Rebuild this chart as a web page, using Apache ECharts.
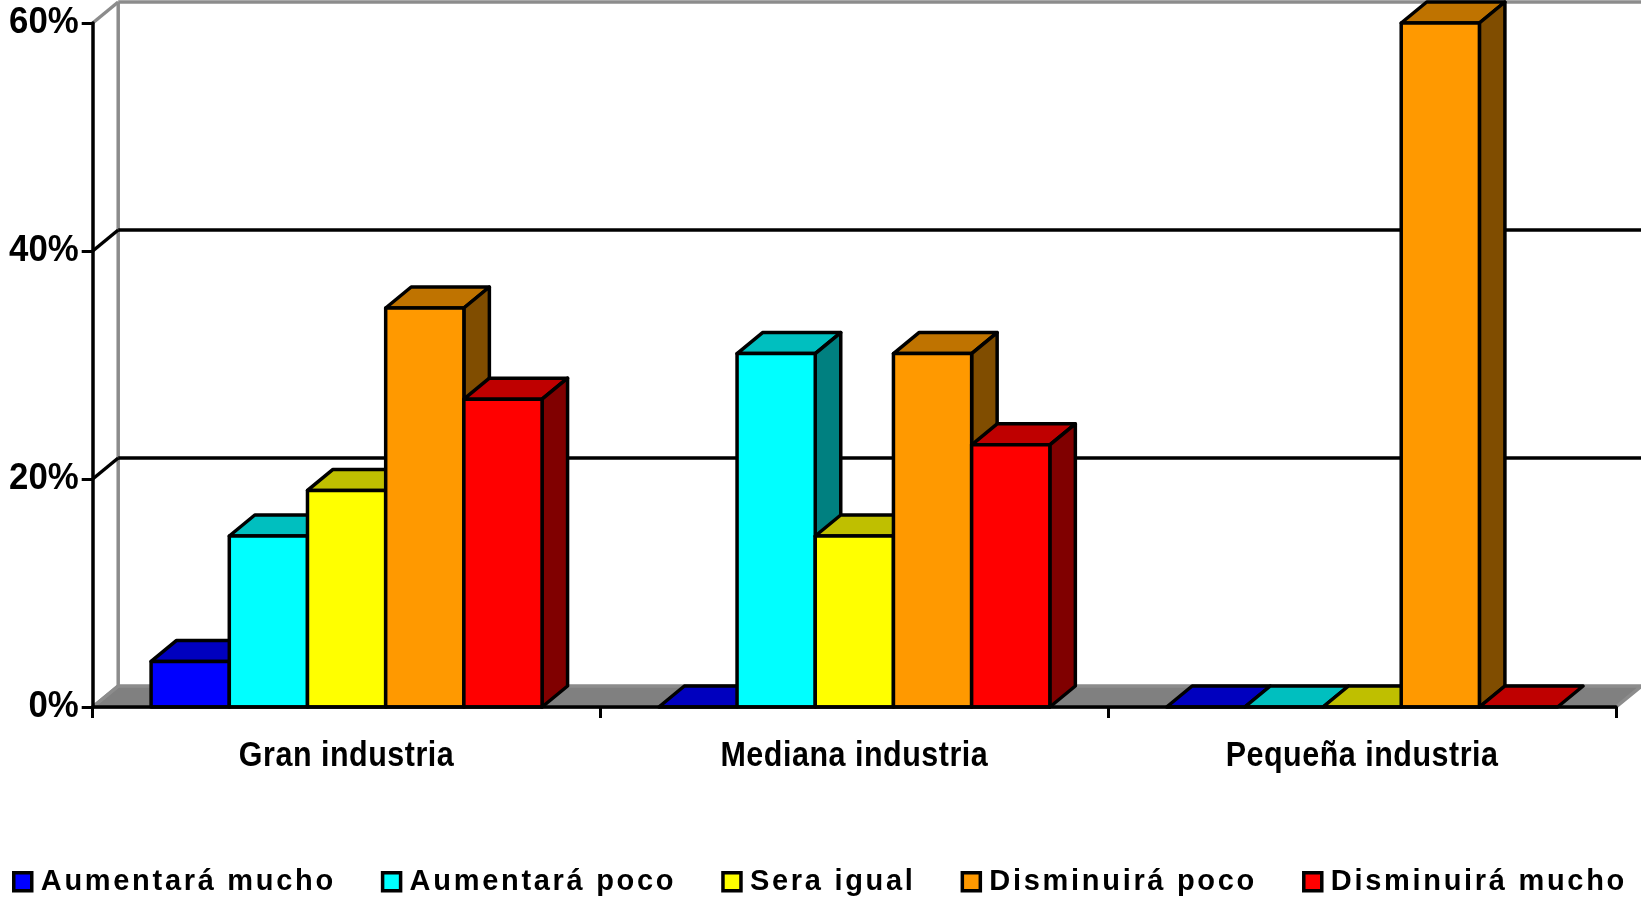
<!DOCTYPE html>
<html><head><meta charset="utf-8">
<style>html,body{margin:0;padding:0;background:#fff}#c{width:1641px;height:906px}</style>
<script src="https://cdn.jsdelivr.net/npm/echarts@6/dist/echarts.min.js"></script>
</head><body><div id="c"></div>
<script>
const categories = ['Gran industria', 'Mediana industria', 'Pequeña industria'];
const yTicks = [0, 20, 40, 60];
const aumentaraMucho = [4, 0, 0];
const aumentaraPoco = [15, 31, 0];
const seraIgual = [19, 15, 0];
const disminuiraPoco = [35, 31, 60];
const disminuiraMucho = [27, 23, 0];
const seriesNames = ['Aumentará mucho', 'Aumentará poco', 'Sera igual', 'Disminuirá poco', 'Disminuirá mucho'];
const seriesValues = [aumentaraMucho, aumentaraPoco, seraIgual, disminuiraPoco, disminuiraMucho];
const seriesColors = ['#0000ff', '#00ffff', '#ffff00', '#ff9900', '#ff0000'];

// per-font letter spacing and horizontal squeeze of the original's text rendering
const textFit = [
  { re: /29px/, spacing: '2.7px', squeeze: 1 },
  { re: /35px/, spacing: '0.6px', squeeze: 0.87 },
  { re: /37px/, spacing: '0px', squeeze: 0.94 }
];
const findFit = ctx => textFit.find(s => s.re.test(ctx.font));
const P = CanvasRenderingContext2D.prototype, ft = P.fillText, mt = P.measureText;
P.fillText = function (text, x, y) {
  const f = findFit(this);
  this.letterSpacing = f ? f.spacing : '0px';
  if (!f || f.squeeze === 1) return ft.call(this, text, x, y);
  this.save();
  this.translate(x, y);
  this.scale(f.squeeze, 1);
  ft.call(this, text, 0, 0);
  this.restore();
};
P.measureText = function (text) {
  const f = findFit(this);
  this.letterSpacing = f ? f.spacing : '0px';
  return mt.call(this, text);
};

const DX = 25.5, DY = 21, LW = 3.5, BAR = 0.154;
const shade = (hex, f) => {
  const n = parseInt(hex.slice(1), 16);
  const c = [n >> 16, (n >> 8) & 255, n & 255].map(v => Math.round(v * f));
  return 'rgb(' + c.join(',') + ')';
};
const poly = (points, fill, stroke) => ({
  type: 'polygon', shape: { points },
  style: { fill, stroke: stroke || '#000', lineWidth: LW, lineJoin: 'round' }
});
const line = (x1, y1, x2, y2, stroke) => ({
  type: 'line', shape: { x1, y1, x2, y2 }, style: { stroke, lineWidth: LW, lineCap: 'butt' }
});

function renderWall(params, api) {
  const v = api.value(0);
  const a = api.coord([0, v]);
  const band = api.size([1, 0])[0];
  const x0 = a[0] - band / 2, x1 = x0 + band * categories.length, y = a[1];
  const grey = '#808080';
  const top = v === yTicks[yTicks.length - 1];
  const children = [];
  if (v === 0) {
    children.push(poly([[x0, y], [x1, y], [x1 + DX, y - DY], [x0 + DX, y - DY]], grey, '#8c8c8c'));
    const topY = api.coord([0, yTicks[yTicks.length - 1]])[1];
    children.push(line(x0 + DX, y - DY, x0 + DX, topY - DY, '#8c8c8c'));
    children.push(line(x0, y, x0 + DX, y - DY, '#8c8c8c'));
  } else {
    const col = top ? '#8c8c8c' : '#000';
    children.push(line(x0, y, x0 + DX, y - DY, col));
    children.push(line(x0 + DX, y - DY, x1 + DX, y - DY, col));
  }
  return { type: 'group', children };
}

function renderBar(sIdx) {
  return function (params, api) {
    const band = api.size([1, 0])[0];
    const w = band * BAR;
    const top = api.coord([api.value(0), api.value(1)]);
    const base = api.coord([api.value(0), 0]);
    const xL = top[0] + (sIdx - 2.5) * w, xR = xL + w, yT = top[1], yB = base[1];
    const col = seriesColors[sIdx];
    const children = [
      poly([[xL, yT], [xR, yT], [xR + DX, yT - DY], [xL + DX, yT - DY]], shade(col, 0.75))
    ];
    if (yB - yT > 0.5) {
      children.push(poly([[xR, yT], [xR + DX, yT - DY], [xR + DX, yB - DY], [xR, yB]], shade(col, 0.5)));
      children.push(poly([[xL, yT], [xR, yT], [xR, yB], [xL, yB]], col));
    }
    return { type: 'group', children };
  };
}

const chart = echarts.init(document.getElementById('c'), null, { renderer: 'canvas', width: 1641, height: 906 });
chart.setOption({
  animation: false,
  backgroundColor: '#fff',
  grid: { left: 92.7, right: 25, top: 23, bottom: 199, containLabel: false },
  legend: {
    data: seriesNames, left: 12, top: 866, itemGap: 45, itemWidth: 18, itemHeight: 18,
    icon: 'rect', padding: 0,
    itemStyle: { borderColor: '#000', borderWidth: 3.5 },
    textStyle: { fontFamily: 'Liberation Sans', fontWeight: 'bold', fontSize: 29, color: '#000', padding: [0, 0, 0, 4] }
  },
  xAxis: {
    type: 'category', data: categories, z: 20,
    axisLine: { lineStyle: { color: '#000', width: 3.5 } },
    axisTick: { show: true, length: 11, alignWithLabel: false, lineStyle: { color: '#000', width: 3 } },
    axisLabel: { margin: 32, color: '#000', fontFamily: 'Liberation Sans', fontWeight: 'bold', fontSize: 35 },
    splitLine: { show: false }
  },
  yAxis: {
    type: 'value', min: 0, max: 60, interval: 20, z: 20,
    axisLine: { show: true, lineStyle: { color: '#000', width: 3.5 } },
    axisTick: { show: true, length: 11, lineStyle: { color: '#000', width: 3 } },
    axisLabel: { margin: 14, color: '#000', fontFamily: 'Liberation Sans', fontWeight: 'bold', fontSize: 37, padding: [3, 0, 0, 0], formatter: '{value}%' },
    splitLine: { show: false }
  },
  series: [{
    type: 'custom', name: 'wall', z: 1, silent: true, clip: false,
    coordinateSystem: 'cartesian2d',
    data: yTicks.map(v => [v]), encode: { y: 0 },
    renderItem: renderWall
  }].concat(seriesNames.map((name, i) => ({
    type: 'custom', name, z: 2 + i, clip: false,
    coordinateSystem: 'cartesian2d',
    itemStyle: { color: seriesColors[i] },
    data: seriesValues[i].map((v, k) => [k, v]),
    encode: { x: 0, y: 1 },
    renderItem: renderBar(i)
  })))
});
</script></body></html>
